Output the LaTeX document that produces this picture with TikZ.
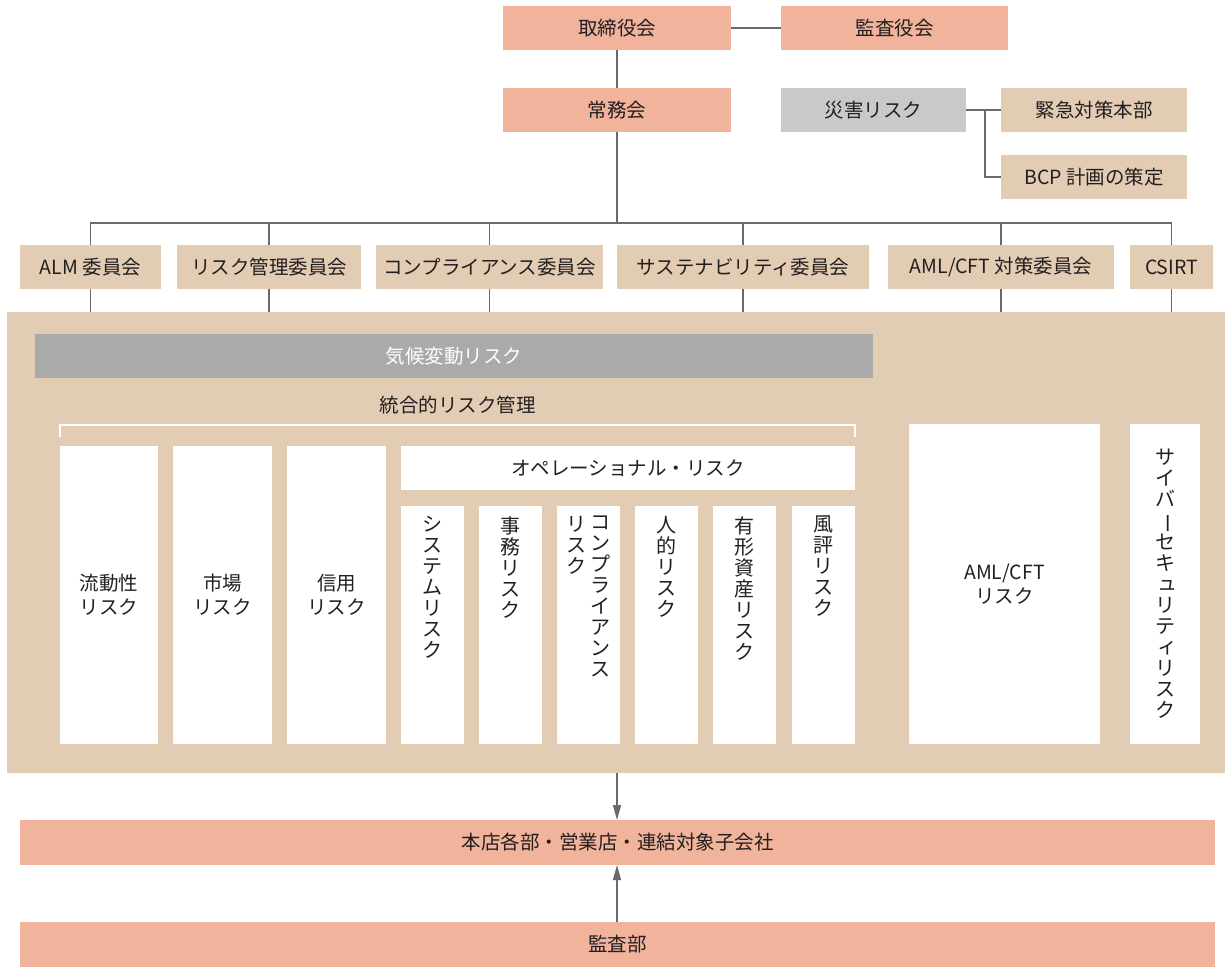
\documentclass[tikz,border=0pt]{standalone}
\usepackage{fontspec}
\usepackage{graphicx}
\setmainfont{Noto Sans CJK JP}
\usetikzlibrary{arrows.meta}
\definecolor{salmon}{HTML}{F1B39B}
\definecolor{tan}{HTML}{E2CCB3}
\definecolor{lgray}{HTML}{C9C9C9}
\definecolor{dgray}{HTML}{AAAAAA}
\definecolor{lnc}{HTML}{6A6A6A}
\definecolor{txt}{HTML}{231F20}
\newcommand\vlong{\rotatebox[origin=c]{-90}{ー}}
\newcommand\smk[1]{\makebox[1em][l]{\hspace{0.12em}\raisebox{0.06em}{#1}}}
\begin{document}
\begin{tikzpicture}[x=1pt,y=-1pt,
  bx/.style={inner sep=0pt, outer sep=0pt, anchor=center, text=txt,
    font=\fontsize{19.5}{24}\selectfont, align=center},
  sal/.style={bx, fill=salmon},
  tn/.style={bx, fill=tan},
  wt/.style={bx, fill=white},
  vt/.style={font=\fontsize{20}{21}\selectfont, text=txt, align=center, inner sep=0pt, anchor=north},
  ln/.style={draw=lnc, line width=1.3pt},
  arr/.style={ln, -{Triangle[length=15pt,width=8pt]}, color=lnc}]
\useasboundingbox (0,0) rectangle (1225,967);
% top
\node[sal, minimum width=228, minimum height=44] (tori) at (617,28) {取締役会};
\node[sal, minimum width=227, minimum height=44] (kansa) at (894.5,28) {監査役会};
\node[sal, minimum width=228, minimum height=44] (jomu) at (617,110) {常務会};
\node[bx, fill=lgray, minimum width=185, minimum height=44] (saigai) at (873.5,110) {災害リスク};
\node[tn, minimum width=186, minimum height=44] (kinkyu) at (1094,110) {緊急対策本部};
\node[tn, minimum width=186, minimum height=44] (bcp) at (1094,177) {BCP 計画の策定};
\draw[ln] (tori.east) -- (kansa.west);
\draw[ln] (tori.south) -- (jomu.north);
\draw[ln] (saigai.east) -- (kinkyu.west);
\coordinate (sb) at (985,110);
\draw[ln] (sb) |- (bcp.west);
% committees
\node[tn, minimum width=141, minimum height=44] (c1) at (90.5,267) {ALM 委員会};
\node[tn, minimum width=184, minimum height=44] (c2) at (269,267) {リスク管理委員会};
\node[tn, minimum width=227, minimum height=44] (c3) at (489.5,267) {コンプライアンス委員会};
\node[tn, minimum width=252, minimum height=44] (c4) at (743,267) {サステナビリティ委員会};
\node[tn, minimum width=226, minimum height=44] (c5) at (1001,267) {AML/CFT 対策委員会};
\node[tn, minimum width=83, minimum height=44] (c6) at (1171.5,267) {CSIRT};
\coordinate (bus) at (617,223);
\draw[ln] (jomu.south) -- (bus);
\draw[ln] (c1.north) |- (bus) -| (c6.north);
\foreach \c in {c2,c3,c4,c5} \draw[ln] (\c.north) -- (\c.north |- bus);
% big box
\node[tn, minimum width=1218, minimum height=461] (big) at (616,542.5) {};
\foreach \c in {c1,c2,c3,c4,c5,c6} \draw[ln] (\c.south) -- (\c.south |- big.north);
\node[bx, fill=dgray, text=white, minimum width=838, minimum height=44] (kiko) at (454,356) {気候変動リスク};
\node[bx] (togo) at (457.5,405) {統合的リスク管理};
\coordinate (brl) at (60,437);
\coordinate (brr) at (855,437);
\draw[white, line width=1.2pt] (brl) -- ++(0,-12) -| (brr);
% columns
\node[wt, minimum width=98, minimum height=298] (ryudo) at (109,595) {流動性\\リスク};
\node[wt, minimum width=99, minimum height=298] (shijo) at (222.5,595) {市場\\リスク};
\node[wt, minimum width=99, minimum height=298] (shinyo) at (336.5,595) {信用\\リスク};
\node[wt, minimum width=454, minimum height=44] (ope) at (628,468) {オペレーショナル・リスク};
\node[wt, minimum width=63, minimum height=238] (o1) at (432.5,625) {};
\node[wt, minimum width=63, minimum height=238] (o2) at (510.5,625) {};
\node[wt, minimum width=63, minimum height=238] (o3) at (588.5,625) {};
\node[wt, minimum width=63, minimum height=238] (o4) at (666.5,625) {};
\node[wt, minimum width=63, minimum height=238] (o5) at (744.5,625) {};
\node[wt, minimum width=63, minimum height=238] (o6) at (823.5,625) {};
\node[vt] (t1) at (432.5,516) {シ\\ス\\テ\\ム\\リ\\ス\\ク};
\node[vt] (t2) at (510.5,516) {事\\務\\リ\\ス\\ク};
\node[vt] (t3a) at (600,516) {コ\\ン\\プ\\ラ\\イ\\ア\\ン\\ス};
\node[vt] (t3b) at (576,516) {リ\\ス\\ク};
\node[vt] (t4) at (666.5,516) {人\\的\\リ\\ス\\ク};
\node[vt] (t5) at (744.5,516) {有\\形\\資\\産\\リ\\ス\\ク};
\node[vt] (t6) at (823.5,516) {風\\評\\リ\\ス\\ク};
\node[wt, minimum width=191, minimum height=320] (aml) at (1004.5,584) {AML/CFT\\リスク};
\node[wt, minimum width=70, minimum height=320] (cyber) at (1165,584) {};
\node[vt, anchor=center] (t7) at (1165,584) {サ\\イ\\バ\\\vlong\\セ\\キ\\\smk{ュ}\\リ\\テ\\\smk{ィ}\\リ\\ス\\ク};
% bottom
\node[sal, minimum width=1195, minimum height=45] (honten) at (617.5,842.5) {本店各部・営業店・連結対象子会社};
\node[sal, minimum width=1195, minimum height=45] (kansabu) at (617.5,944.5) {監査部};
\draw[arr] (big.south -| jomu.south) -- (honten.north -| jomu.south);
\draw[arr] (kansabu.north -| jomu.south) -- (honten.south -| jomu.south);
\end{tikzpicture}
\end{document}
